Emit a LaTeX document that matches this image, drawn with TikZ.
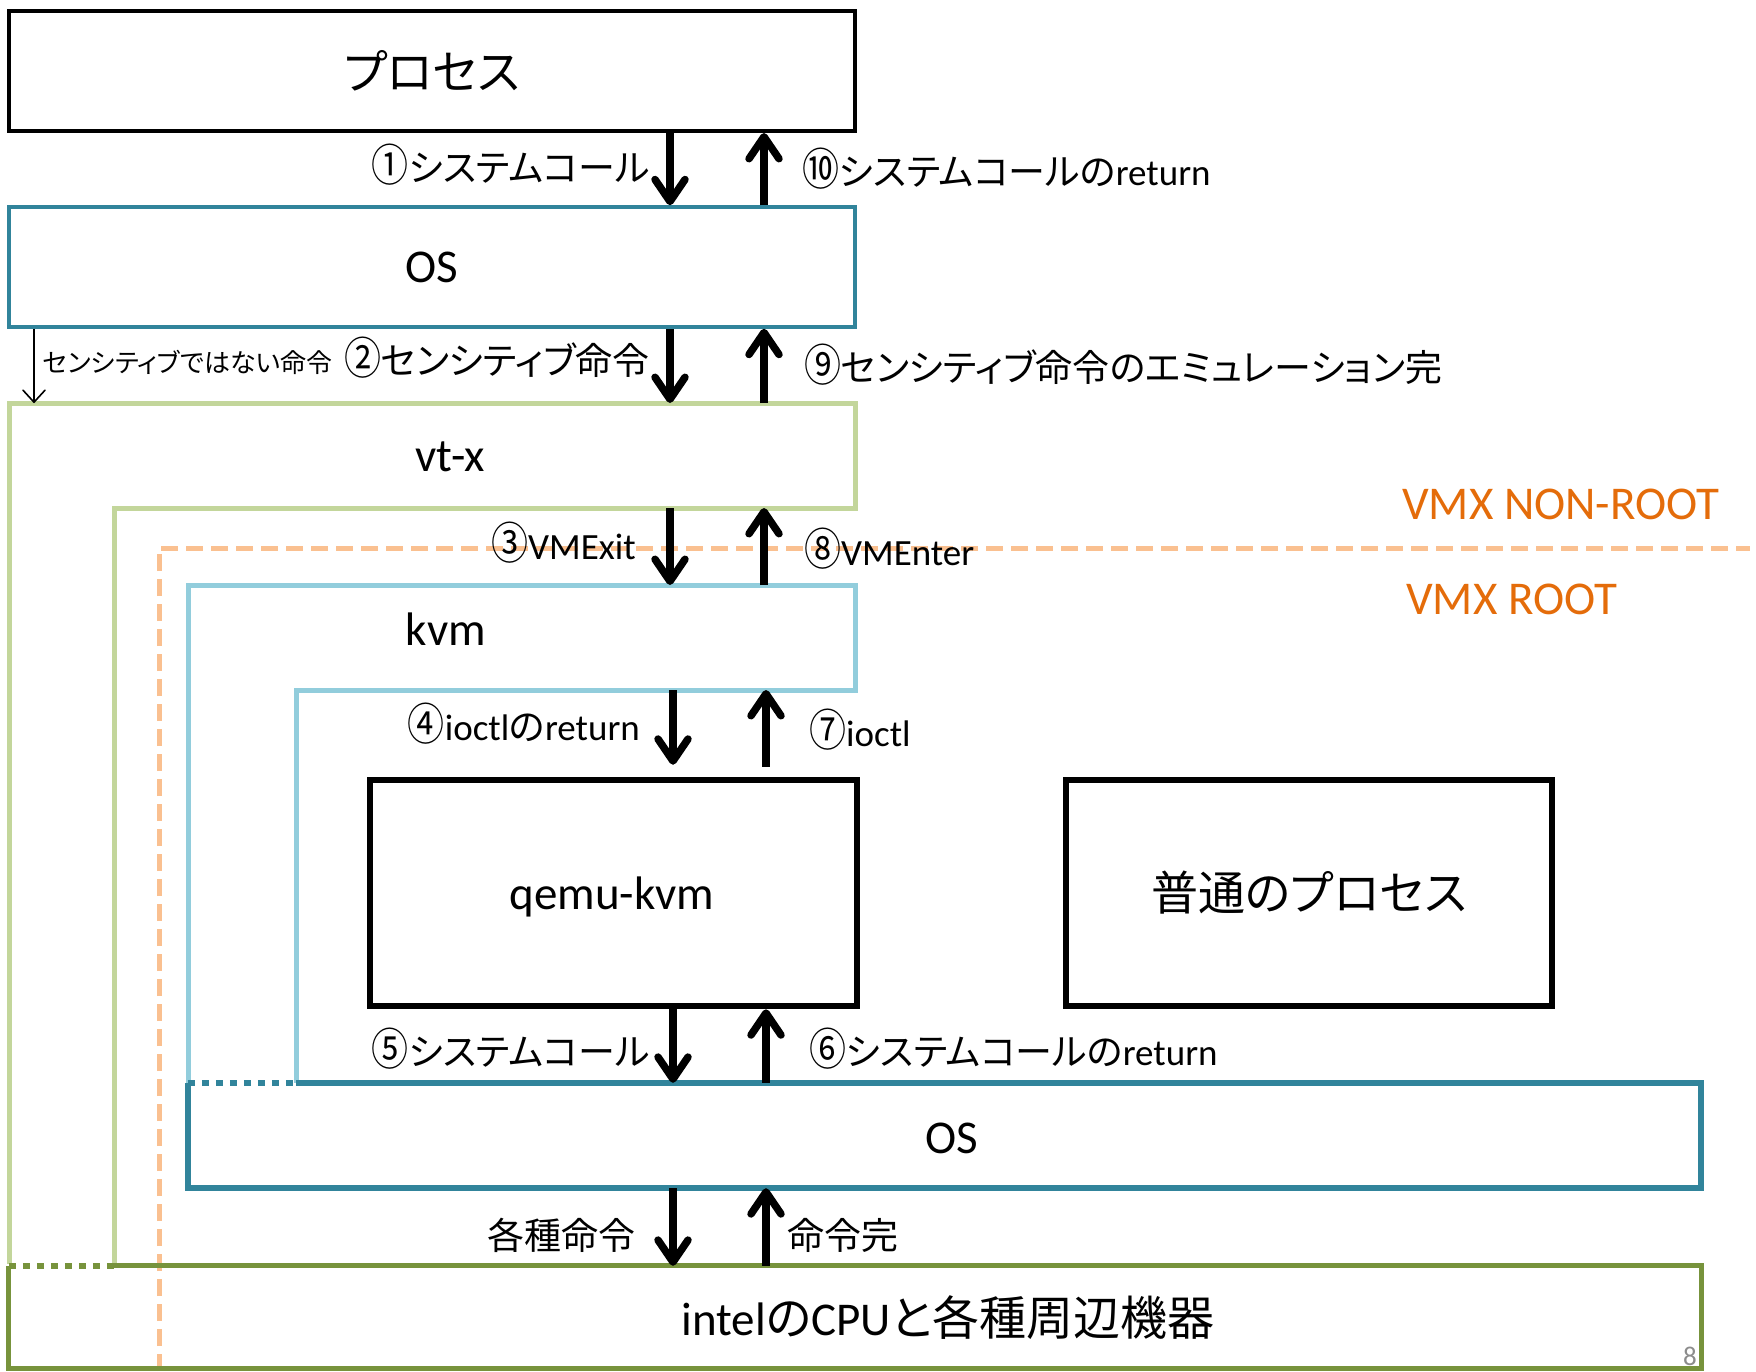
\documentclass[tikz,border=0pt]{standalone}
\usepackage{fontspec}
\setmainfont{Carlito}
\newfontfamily\jp{Noto Sans CJK JP}[RawFeature=+palt]
\usetikzlibrary{arrows.meta,calc}

\definecolor{osteal}{HTML}{31849B}
\definecolor{vtgreen}{HTML}{C3D69B}
\definecolor{kvmblue}{HTML}{92CDDC}
\definecolor{hwolive}{HTML}{77933C}
\definecolor{vmxline}{HTML}{FAC090}
\definecolor{vmxtext}{HTML}{E46C0A}
\definecolor{pagegray}{HTML}{8C8C8C}

% circled step numbers, drawn a little taller than the plain glyph
\newcommand\stepno[1]{\scalebox{1.0}[1.2]{\jp #1}}

\tikzset{
  box/.style={rectangle, inner sep=0pt, font=\fontsize{47}{52}\selectfont},
  bigtext/.style={inner sep=0pt, font=\fontsize{47}{52}\selectfont},
  lab/.style={inner sep=0pt, font=\fontsize{37}{42}\selectfont},
  smalllab/.style={inner sep=0pt, font=\fontsize{26}{30}\selectfont},
  vmx/.style={inner sep=0pt, anchor=west, text=vmxtext, font=\fontsize{47}{52}\selectfont},
  flow/.style={draw=black, line width=7.5pt,
    -{Straight Barb[length=22pt, width=30pt, round]}},
  thinflow/.style={draw=black, line width=1.6pt,
    -{Straight Barb[length=12pt, width=22pt, round]}},
  layer/.style={line width=5pt, line join=miter},
  dotedge/.style={line width=6pt, dash pattern=on 7pt off 7pt},
}

\begin{document}
\begin{tikzpicture}[x=1pt, y=-1pt]
\useasboundingbox (0,0) rectangle (1756,1371);

% reference levels of the layered outlines
\coordinate (vtTop)   at (0,403);
\coordinate (vtStep)  at (0,508);
\coordinate (kvmTop)  at (0,585);
\coordinate (kvmStep) at (0,690);
\coordinate (vtIn)    at (114,0);
\coordinate (kvmIn)   at (296,0);
\coordinate (vmxCorner) at (159,548);

% arrow columns
\coordinate (xa) at (670,0);
\coordinate (xb) at (764,0);
\coordinate (xc) at (673,0);
\coordinate (xd) at (766,0);
\coordinate (xt) at (34,0);

% VMX root / non-root boundary
\draw[vmxline, line width=5pt, dash pattern=on 17pt off 8pt]
  (159,1371) -- (vmxCorner) -- (1750,548);
\node[vmx] (nonroot) at (1402,504) {VMX NON-ROOT};
\node[vmx] (root) at (1406,599) {VMX ROOT};

% vt-x outline
\draw[layer, vtgreen] (9,1264) -- (9,403) -- (855,403) -- (855,508)
  -- (114,508) -- (114,1264);
\node[bigtext] (vtx) at (450,457) {vt-x};

% kvm outline
\draw[layer, kvmblue] (188,1083) -- (188,585) -- (855,585) -- (855,690)
  -- (296,690) -- (296,1083);
\node[bigtext] (kvm) at (446,629) {kvm};

% boxes
\node[box, draw=black, line width=4pt, minimum width=846pt, minimum height=120pt]
  (proc) at (432,71) {\jp プロセス};
\node[box, draw=osteal, line width=3.5pt, minimum width=846pt, minimum height=120pt]
  (os1) at (432,267) {OS};
\node[box, draw=black, line width=6.5pt, minimum width=487pt, minimum height=226pt]
  (qemu) at (613.5,893) {};
\node[bigtext] (qemutxt) at (612,897) {qemu-kvm};
\node[box, draw=black, line width=6.5pt, minimum width=486pt, minimum height=226pt]
  (proc2) at (1309,893) {\jp 普通のプロセス};

% host OS box, dotted where it meets the kvm outline
\node[box, minimum width=1513pt, minimum height=105pt] (os2) at (944.5,1135.5) {};
\draw[osteal, line width=6pt, line join=miter]
  (os2.north west -| kvmIn) -- (os2.north east) -- (os2.south east)
  -- (os2.south west) -- (os2.north west);
\draw[osteal, dotedge] (os2.north west) -- (os2.north west -| kvmIn);
\node[bigtext] (os2txt) at (952,1138) {OS};

% hardware box, dotted where it meets the vt-x outline
\node[box, minimum width=1692pt, minimum height=102pt] (cpu) at (855,1317) {};
\draw[hwolive, line width=5pt, line join=miter]
  (cpu.north west -| vtIn) -- (cpu.north east) -- (cpu.south east)
  -- (cpu.south west) -- (cpu.north west);
\draw[hwolive, dotedge] (cpu.north west) -- (cpu.north west -| vtIn);
\node[bigtext] (cputxt) at (948,1318) {intel{\jp の}CPU{\jp と各種周辺機器}};

% page number
\node[inner sep=0pt, anchor=south east, text=pagegray,
  font=\fontsize{27}{30}\selectfont] (page) at (1697,1366) {8};

% call flow
\draw[flow] (proc.south -| xa) -- (os1.north -| xa);
\draw[flow] (os1.north -| xb) -- (proc.south -| xb);
\draw[flow] (os1.south -| xa) -- (vtTop -| xa);
\draw[flow] (vtTop -| xb) -- (os1.south -| xb);
\draw[thinflow] (os1.south -| xt) -- (vtTop -| xt);
\draw[flow] (vtStep -| xa) -- (kvmTop -| xa);
\draw[flow] (kvmTop -| xb) -- (vtStep -| xb);
\draw[flow] (kvmStep -| xc) -- ($(qemu.north -| xc)+(0,-12)$);
\draw[flow] ($(qemu.north -| xd)+(0,-10)$) -- (kvmStep -| xd);
\draw[flow] (qemu.south -| xc) -- (os2.north -| xc);
\draw[flow] (os2.north -| xd) -- (qemu.south -| xd);
\draw[flow] (os2.south -| xc) -- (cpu.north -| xc);
\draw[flow] (cpu.north -| xd) -- (os2.south -| xd);

% labels
\node[lab, anchor=east] (l1) at (650,165) {\stepno{①}{\jp システムコール}};
\node[lab, anchor=west] (l10) at (802,169) {\stepno{⑩}{\jp システムコールの}return};
\node[smalllab, anchor=west] (l0) at (43,362) {\jp センシティブではない命令};
\node[lab, anchor=east] (l2) at (650,358) {\stepno{②}{\jp センシティブ命令}};
\node[lab, anchor=west] (l9) at (804,365) {\stepno{⑨}{\jp センシティブ命令のエミュレーション完}};
\node[lab, anchor=east] (l3) at (636,543) {\stepno{③}VMExit};
\node[lab, anchor=west] (l8) at (804,549) {\stepno{⑧}VMEnter};
\node[lab, anchor=east] (l4) at (640,724) {\stepno{④}ioctl{\jp の}return};
\node[lab, anchor=west] (l7) at (809,730) {\stepno{⑦}ioctl};
\node[lab, anchor=east] (l5) at (650,1049) {\stepno{⑤}{\jp システムコール}};
\node[lab, anchor=west] (l6) at (809,1049) {\stepno{⑥}{\jp システムコールの}return};
\node[lab, anchor=east] (l11) at (636,1235) {\jp 各種命令};
\node[lab, anchor=west] (l12) at (787,1235) {\jp 命令完};
\end{tikzpicture}
\end{document}
